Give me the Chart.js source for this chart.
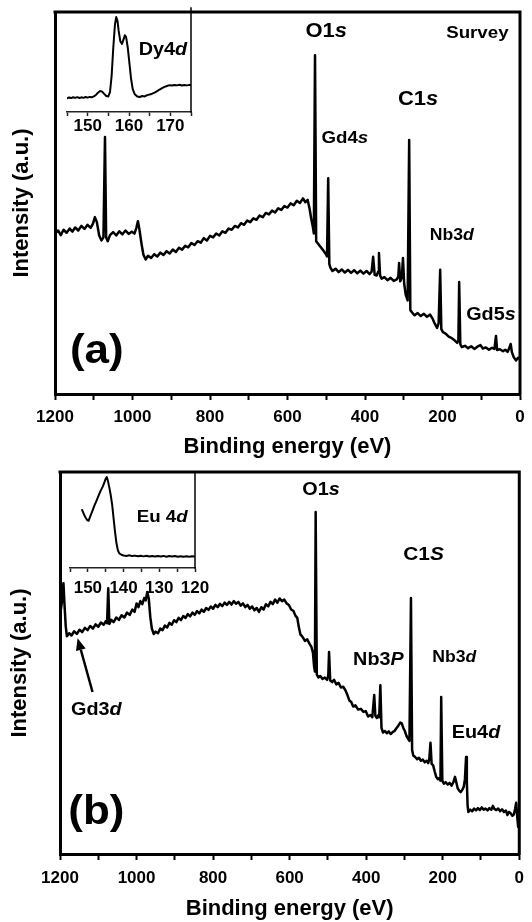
<!DOCTYPE html>
<html>
<head>
<title>XPS survey spectra</title>
<style>
body { margin: 0; background: #fff; }
.wrap { position: relative; width: 532px; height: 922px; overflow: hidden; background: #fff; }
canvas { position: absolute; }
#surveyA { left: 0; top: 0; }
#surveyB { left: 0; top: 460px; }
#insetA { left: 60px; top: 0; }
#insetB { left: 60px; top: 462px; }
</style>
</head>
<body>
<div class="wrap">
<canvas id="surveyA" width="532" height="460"></canvas>
<canvas id="surveyB" width="532" height="462"></canvas>
<canvas id="insetA" width="140" height="140"></canvas>
<canvas id="insetB" width="160" height="140"></canvas>
</div>
<script src="https://cdn.jsdelivr.net/npm/chart.js@4"></script>
<script>
const FONT = "'Liberation Sans', Arial, Helvetica, sans-serif";
const SX = 1.1; // peak labels are set a little wide

// survey (a): binding energy (eV) / intensity (a.u.)
const energyA = [1200,1192,1185,1178,1170,1162,1155,1148,1140,1132,1124,1116,1108,1102,1097,1092,1086,1080,1075,1071,1068,1064,1058,1050,1042,1034,1026,1018,1010,1002,995,990,986,982,977,972,966,960,952,944,936,928,920,912,904,896,888,880,872,864,856,848,840,832,824,816,808,800,792,784,776,768,760,752,744,736,728,720,712,704,696,688,680,672,664,656,648,640,632,624,616,608,600,592,584,576,568,560,554,548,543,539,535,532,529,526,520,514,508,502,498,495,492,489,484,476,468,460,452,444,436,428,420,412,404,396,388,383,379,375,370,366,364,361,357,350,342,334,326,318,314,312,309,305,302,299,295,290,286,283,279,272,264,256,248,240,232,226,220,214,210,206,203,199,192,184,176,168,162,159,157,154,150,142,134,126,118,110,102,96,88,80,72,66,62,59,52,44,38,32,28,24,21,16,10,5,0];
const intensityA = [42.0,42.8,41.6,43.0,42.2,43.3,42.5,43.6,42.8,44.0,43.2,44.3,43.5,44.6,46.3,45.0,41.5,40.2,41.0,67.3,41.0,40.0,41.6,42.4,41.5,42.6,41.8,42.8,41.9,42.5,42.0,43.5,45.2,43.0,39.5,36.5,35.2,36.2,35.6,36.6,36.0,37.0,36.4,37.4,36.8,37.8,37.2,38.3,37.8,38.8,38.4,39.5,39.0,40.0,39.6,40.8,40.2,41.4,41.0,42.0,41.5,42.6,42.2,43.3,43.0,44.0,43.6,44.7,44.3,45.4,45.0,46.0,45.6,46.7,46.3,47.4,47.0,48.0,47.5,48.6,48.2,49.2,48.8,49.9,49.4,50.6,50.0,51.2,50.2,50.8,48.5,46.0,44.0,42.0,88.7,40.0,39.2,38.4,37.6,36.8,36.0,56.5,34.0,33.0,32.2,32.8,31.9,32.6,31.8,32.5,31.7,32.4,31.6,32.3,31.5,32.2,31.4,32.0,35.9,31.2,31.0,32.0,36.9,31.0,30.2,30.6,29.8,30.4,29.6,30.0,30.8,34.3,29.5,30.5,35.6,29.0,26.0,24.5,66.5,22.0,21.4,20.6,21.2,20.4,21.0,20.2,20.8,19.8,18.4,17.3,18.5,32.5,17.0,16.2,15.8,15.0,14.6,14.0,13.4,14.0,29.3,13.0,12.3,12.6,12.0,12.5,11.8,12.4,12.8,11.9,12.2,11.6,12.1,11.8,15.2,11.5,11.7,11.2,11.6,11.0,12.0,13.1,11.0,9.6,8.8,9.5,9.2];

// survey (b)
const energyB = [1200,1197,1194,1191,1188,1185,1182,1176,1170,1163,1156,1149,1142,1135,1128,1121,1114,1107,1100,1093,1086,1080,1077,1074,1071,1066,1060,1053,1046,1039,1032,1025,1018,1011,1005,1000,995,990,985,980,976,972,968,964,960,955,950,944,938,932,926,920,914,908,902,896,890,884,878,872,866,860,854,848,842,836,830,824,818,812,806,800,794,788,782,776,770,764,758,752,746,740,734,728,722,716,710,704,698,692,686,680,674,668,662,656,650,644,638,632,626,620,614,608,602,596,590,585,580,576,572,566,560,554,548,543,539,536,534,532,529,525,520,514,508,502,499,497,494,489,484,478,472,466,460,454,449,444,439,434,428,421,414,407,401,395,389,384,379,376,372,368,366,363,360,356,351,346,341,336,331,326,321,316,311,307,303,299,295,291,287,283,280,277,272,267,262,257,252,247,242,238,235,232,229,225,221,217,213,209,206,204,201,197,192,187,182,177,172,168,165,161,157,153,149,145,142,139,137,135,133,128,123,118,113,108,103,98,93,88,83,78,73,69,65,60,55,50,45,40,35,31,27,22,18,14,11,8,5,3,0];
const intensityB = [62.6,64.5,66.8,70.9,64.8,59.6,57.0,57.8,57.2,58.3,57.6,58.7,58.1,59.2,58.6,59.7,59.0,60.1,59.5,60.6,60.0,61.0,60.4,69.6,60.2,61.3,60.7,61.9,61.3,62.5,61.9,63.2,62.6,64.0,63.4,65.6,64.6,66.2,65.4,67.0,66.4,68.6,66.8,62.0,59.0,57.6,58.2,57.8,59.0,58.6,59.8,59.3,60.5,60.0,61.2,60.7,61.8,61.2,62.3,61.8,62.8,62.2,63.2,62.6,63.6,63.0,64.0,63.4,64.4,63.9,64.8,64.2,65.2,64.6,65.5,64.9,65.8,65.2,66.0,65.3,66.2,65.5,66.0,65.0,65.6,64.6,65.2,64.2,64.8,63.8,64.4,63.4,64.6,64.0,65.4,64.8,66.0,65.4,66.6,65.8,66.9,66.2,66.6,65.6,65.2,64.0,63.6,62.4,61.8,59.4,57.5,56.8,55.8,56.2,55.0,54.2,52.6,49.0,47.8,89.5,47.0,46.2,46.6,45.8,46.2,45.6,46.8,52.9,45.4,45.0,45.6,44.4,44.8,43.6,43.8,42.8,41.6,40.2,39.8,38.6,38.9,37.8,38.0,37.2,37.4,36.0,36.4,35.8,41.6,36.2,35.6,36.4,35.8,44.2,33.0,31.8,32.2,31.6,32.1,31.4,31.9,32.2,32.9,33.6,34.4,34.2,33.0,32.2,31.0,30.2,29.6,67.0,27.2,25.8,25.4,24.8,25.2,24.4,24.7,24.0,24.4,23.8,25.0,29.1,23.6,23.2,21.6,20.2,19.6,19.9,19.2,41.1,19.2,18.4,18.8,18.2,18.6,17.9,18.8,20.2,19.0,17.2,16.6,16.2,16.8,17.6,19.6,25.4,19.0,12.6,11.0,11.6,11.2,11.9,11.4,12.0,11.5,12.2,11.6,11.9,11.4,12.0,11.6,12.6,11.8,11.5,11.9,11.2,11.7,11.0,11.4,10.2,11.0,10.6,10.0,10.4,11.8,13.4,9.4,7.1,8.9];

// Dy 4d detail
const dyEnergy = [145.0,145.5,146.0,146.5,147.0,147.5,148.0,148.5,149.0,149.5,150.0,150.5,151.0,151.5,152.0,152.5,153.0,153.5,154.0,154.5,155.0,155.4,155.8,156.2,156.6,156.9,157.2,157.5,157.9,158.3,158.7,159.0,159.3,159.7,160.1,160.5,160.9,161.4,162.0,162.6,163.2,163.8,164.4,165.0,165.6,166.2,166.8,167.4,168.0,168.6,169.2,169.8,170.4,171.0,171.6,172.2,172.8,173.4,174.0,174.6,175.0];
const dyIntensity = [13.2,14.0,13.4,14.2,13.6,14.3,13.5,14.1,13.6,14.4,13.8,14.5,14.2,15.0,16.4,18.6,20.2,19.6,17.4,15.4,15.0,19.0,35.0,62.0,84.0,91.3,88.0,78.0,68.0,65.5,70.0,73.8,72.0,62.0,47.0,32.0,22.0,17.0,14.8,14.4,15.4,15.0,16.2,16.8,17.6,18.6,20.0,21.6,23.0,24.2,25.0,25.8,25.4,26.0,25.6,26.2,25.5,26.0,25.6,26.1,25.8];

// Eu 4d detail
const euEnergy = [151.6,151.2,150.7,150.2,149.8,149.3,148.8,148.2,147.6,147.0,146.4,145.8,145.4,145.0,144.7,144.4,144.0,143.6,143.2,142.8,142.4,142.0,141.6,141.2,140.6,140.0,139.2,138.4,137.6,136.8,136.0,135.2,134.4,133.6,132.8,132.0,131.2,130.4,129.6,128.8,128.0,127.2,126.4,125.6,124.8,124.0,123.2,122.4,121.6,120.8,120.0];
const euIntensity = [60.4,57.0,52.8,50.0,49.2,54.0,58.8,64.6,70.0,75.4,80.6,85.0,89.0,93.0,94.8,91.0,84.0,76.0,66.0,52.0,38.0,26.0,18.5,15.2,13.8,13.0,12.6,13.2,12.4,12.9,12.2,12.8,12.1,12.7,12.0,12.6,11.9,12.5,12.0,12.6,11.8,12.4,11.9,12.5,11.8,12.3,11.7,12.2,11.8,12.3,11.9];

const surveyLabels = [0, 200, 400, 600, 800, 1000, 1200];
const dyLabels = [150, 160, 170];
const euLabels = [120, 130, 140, 150];

function drawRich(ctx, parts, x, y, size) {
  const fonts = parts.map(p => (p[1] ? 'italic ' : '') + 'bold ' + size + 'px ' + FONT);
  const widths = parts.map((p, i) => { ctx.font = fonts[i]; return ctx.measureText(p[0]).width; });
  const total = widths.reduce((a, b) => a + b, 0);
  ctx.save();
  ctx.translate(x, y);
  ctx.scale(SX, 1);
  ctx.fillStyle = '#000';
  ctx.textBaseline = 'middle';
  ctx.textAlign = 'left';
  let cx = -total / 2;
  parts.forEach((p, i) => { ctx.font = fonts[i]; ctx.fillText(p[0], cx, 0); cx += widths[i]; });
  ctx.restore();
}

function drawArrow(ctx, x0, y0, x1, y1) {
  const ang = Math.atan2(y1 - y0, x1 - x0), head = 12, half = 5;
  const bx = x1 - head * Math.cos(ang), by = y1 - head * Math.sin(ang);
  ctx.save();
  ctx.strokeStyle = '#000'; ctx.fillStyle = '#000'; ctx.lineWidth = 2.5;
  ctx.beginPath(); ctx.moveTo(x0, y0); ctx.lineTo(bx, by); ctx.stroke();
  ctx.beginPath();
  ctx.moveTo(x1, y1);
  ctx.lineTo(bx + half * Math.sin(ang), by - half * Math.cos(ang));
  ctx.lineTo(bx - half * Math.sin(ang), by + half * Math.cos(ang));
  ctx.closePath(); ctx.fill();
  ctx.restore();
}

// frame sides the axes don't draw, plus peak labels placed in data units
function decor(notes, sides, lineW) {
  return {
    id: 'decor',
    afterDraw(chart) {
      const {ctx, chartArea: a, scales: {x, y}} = chart;
      ctx.save();
      ctx.strokeStyle = '#000'; ctx.lineWidth = lineW; ctx.lineCap = 'square';
      ctx.beginPath();
      if (sides.includes('top')) { ctx.moveTo(a.left, a.top); ctx.lineTo(a.right, a.top); }
      if (sides.includes('right')) { ctx.moveTo(a.right, a.top); ctx.lineTo(a.right, a.bottom); }
      ctx.stroke();
      ctx.restore();
      notes.forEach(n => {
        if (n.arrow) {
          const [t, h] = n.arrow;
          drawArrow(ctx, x.getPixelForValue(t[0]), y.getPixelForValue(t[1]), x.getPixelForValue(h[0]), y.getPixelForValue(h[1]));
        } else {
          drawRich(ctx, n.parts, x.getPixelForValue(n.at[0]), y.getPixelForValue(n.at[1]), n.size);
        }
      });
    }
  };
}

function spectrum(id, energy, counts, o) {
  const pts = energy.map((e, i) => ({x: e, y: counts[i]}));
  const tickFont = {family: FONT, size: 17, weight: 'bold'};
  const titleFont = {family: FONT, size: 22, weight: 'bold'};
  return new Chart(document.getElementById(id), {
    type: 'line',
    data: {datasets: [{data: pts, borderColor: '#000', borderWidth: o.lineWidth, pointRadius: 0, tension: 0,
      fill: false, borderJoinStyle: 'round', borderCapStyle: 'round'}]},
    options: {
      responsive: false, animation: false, devicePixelRatio: 1,
      layout: {padding: o.pad},
      plugins: {legend: {display: false}, tooltip: {enabled: false}},
      scales: {
        x: {
          type: 'linear', min: o.xmin, max: o.xmax, reverse: o.reverse,
          afterFit: s => { s.height = o.xHeight; },
          border: {display: true, color: o.axisColor, width: o.axisWidth},
          grid: {display: true, drawOnChartArea: false, drawTicks: true, tickLength: o.tickLen,
            tickWidth: o.tickWidth, tickColor: o.axisColor, color: o.axisColor},
          ticks: {stepSize: o.step, autoSkip: false, maxRotation: 0, minRotation: 0, padding: o.tickPad,
            color: '#000', font: tickFont, callback: v => o.labels.includes(v) ? String(v) : ''},
          title: {display: !!o.xTitle, text: o.xTitle || '', color: '#000', font: titleFont, padding: {top: 0, bottom: 0}}
        },
        y: {
          display: !!o.yTitle, min: 0, max: 100,
          afterFit: s => { if (o.yWidth !== undefined) s.width = o.yWidth; },
          border: {display: true, color: '#000', width: o.axisWidth},
          grid: {display: false},
          ticks: {display: false},
          title: {display: !!o.yTitle, text: o.yTitle || '', color: '#000', font: titleFont, padding: {top: 4, bottom: 0}}
        }
      }
    },
    plugins: [decor(o.notes, o.sides, o.axisWidth)]
  });
}

const mainStyle = {lineWidth: 2.5, axisWidth: 3, axisColor: '#000', tickLen: 6, tickWidth: 2,
  xmin: 0, xmax: 1200, reverse: true, step: 100, labels: surveyLabels,
  xTitle: 'Binding energy (eV)', yTitle: 'Intensity (a.u.)', sides: ['top', 'right']};
const insetStyle = {lineWidth: 2, axisWidth: 1.5, axisColor: '#222', tickLen: 4, tickWidth: 1.5,
  step: 5, yWidth: 0, sides: ['right']};

spectrum('surveyA', energyA, intensityA, Object.assign({}, mainStyle, {
  pad: {left: 5, top: 12, right: 12, bottom: 0}, xHeight: 66, yWidth: 50, tickPad: 7,
  notes: [
    {parts: [['O1'], ['s', true]], at: [500, 94.8], size: 20},
    {parts: [['Survey']], at: [110, 94.5], size: 17},
    {parts: [['C1'], ['s', true]], at: [263, 77], size: 20},
    {parts: [['Gd4'], ['s', true]], at: [452, 67], size: 17},
    {parts: [['Nb3'], ['d', true]], at: [176, 41.4], size: 16},
    {parts: [['Gd5'], ['s', true]], at: [75, 20.7], size: 18},
    {parts: [['(a)']], at: [1092, 11], size: 40}
  ]
}));

spectrum('surveyB', energyB, intensityB, Object.assign({}, mainStyle, {
  pad: {left: 3, top: 12, right: 6, bottom: 0}, xHeight: 68, yWidth: 57, tickPad: 8,
  notes: [
    {parts: [['O1'], ['s', true]], at: [518, 95.3], size: 18},
    {parts: [['C1'], ['S', true]], at: [250, 78.3], size: 19},
    {parts: [['Nb3'], ['P', true]], at: [368, 50.8], size: 18},
    {parts: [['Nb3'], ['d', true]], at: [170, 51.3], size: 16},
    {parts: [['Eu4'], ['d', true]], at: [113, 31.7], size: 18},
    {parts: [['Gd3'], ['d', true]], at: [1105, 37.7], size: 18},
    {arrow: [[1115, 42.4], [1154, 56.5]]},
    {parts: [['(b)']], at: [1105, 10.7], size: 40}
  ]
}));

spectrum('insetA', dyEnergy, dyIntensity, Object.assign({}, insetStyle, {
  pad: {left: 7, top: 8, right: 9, bottom: 0}, xHeight: 28, tickPad: 0,
  xmin: 145, xmax: 175, reverse: false, labels: dyLabels,
  notes: [{parts: [['Dy4'], ['d', true]], at: [168.2, 59.6], size: 18}]
}));

spectrum('insetB', euEnergy, euIntensity, Object.assign({}, insetStyle, {
  pad: {left: 10, top: 10, right: 25, bottom: 0}, xHeight: 34, tickPad: 6,
  xmin: 120, xmax: 155, reverse: true, labels: euLabels,
  notes: [{parts: [['Eu 4'], ['d', true]], at: [129.2, 53], size: 17}]
}));
</script>
</body>
</html>
